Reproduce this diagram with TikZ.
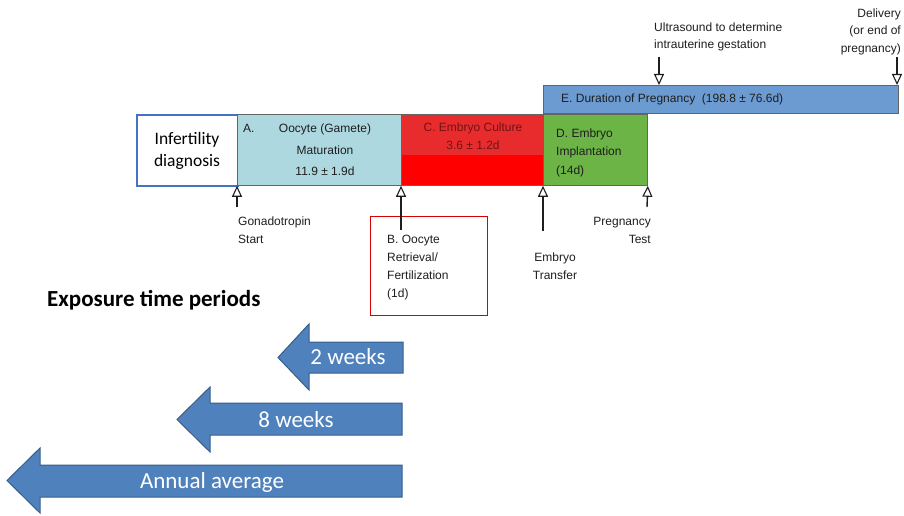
\documentclass[tikz,border=0pt]{standalone}
\usepackage{fontspec}
\setmainfont{Liberation Sans}
\newfontfamily\carl{Carlito}
\usetikzlibrary{arrows.meta}
\definecolor{boxA}{RGB}{174,216,224}
\definecolor{redTop}{RGB}{232,44,46}
\definecolor{redLow}{RGB}{255,0,0}
\definecolor{greenD}{RGB}{108,180,70}
\definecolor{blueE}{RGB}{108,155,210}
\definecolor{edgeG}{RGB}{100,100,100}
\definecolor{diagBlue}{RGB}{68,114,196}
\definecolor{bigFill}{RGB}{79,129,189}
\definecolor{bigEdge}{RGB}{56,93,138}
\definecolor{ctext}{RGB}{110,20,20}
\definecolor{labtext}{RGB}{30,30,30}
\tikzset{
  phase/.style={draw=edgeG, line width=0.8pt, inner sep=0pt, anchor=north west},
  lab/.style={inner sep=0pt, text=labtext, font=\fontsize{12}{18}\selectfont},
  tick/.style={draw=labtext, line width=1.4pt, -{Triangle[open, length=11pt, width=10pt, line width=1.1pt]}},
  bigarrow/.style={fill=bigFill, draw=bigEdge, line width=1pt, line join=miter},
  bigtext/.style={inner sep=0pt, text=white, font=\carl\fontsize{23}{26}\selectfont}
}
\begin{document}
\begin{tikzpicture}[x=1pt,y=-1pt]
\useasboundingbox (0,0) rectangle (904,516);
% phase boxes
\node[phase, fill=blueE, minimum width=355pt, minimum height=28pt] (E) at (543,85) {};
\node[phase, draw=diagBlue, line width=1.6pt, fill=white, minimum width=101pt, minimum height=71pt] (inf) at (136,114) {};
\node[phase, fill=boxA, minimum width=164pt, minimum height=71pt] (A) at (237,114) {};
\node[phase, fill=redLow, minimum width=142pt, minimum height=71pt] (C) at (401,114) {};
\fill[redTop] ([xshift=0.4pt,yshift=-0.4pt]C.north west) rectangle ([xshift=-0.4pt]C.east |- 0,155);
\draw[edgeG, line width=0.8pt] (C.north west) rectangle (C.south east);
\node[phase, fill=greenD, minimum width=104pt, minimum height=71pt] (D) at (543,114) {};
% texts in boxes
\node[inner sep=0pt, font=\carl\fontsize{17.5}{22}\selectfont, align=center] (inft) at (187,151) {Infertility\\diagnosis};
\node[lab, anchor=west] (Aa) at (243,128) {A.};
\node[lab, align=center, font=\fontsize{12}{21.5}\selectfont] (At) at (325,150) {Oocyte (Gamete)\\Maturation\\11.9 ± 1.9d};
\node[lab, align=center, text=ctext] (Ct) at (473,136.5) {C. Embryo Culture\\3.6 ± 1.2d};
\node[lab, align=left, anchor=west, font=\fontsize{12}{18.5}\selectfont] (Dt) at (556,152.5) {D. Embryo\\Implantation\\(14d)};
\node[lab, anchor=west] (Et) at (561,99) {E. Duration of Pregnancy\ \ (198.8 ± 76.6d)};
% labels
\node[lab, align=left, anchor=west] (gon) at (238,230) {Gonadotropin\\Start};
\node[draw=red!85!black, line width=1.4pt, minimum width=117pt, minimum height=99pt, anchor=north west, inner sep=0pt] (Bbox) at (370,216) {};
\node[lab, align=left, anchor=west] (Bt) at (387,268) {B. Oocyte\\Retrieval/\\Fertilization\\(1d)};
\node[lab, align=center] (et) at (555,266) {Embryo\\Transfer};
\node[lab, align=right, anchor=east] (pt) at (651,230.5) {Pregnancy\\Test};
\node[lab, align=left, anchor=west, font=\fontsize{12}{17}\selectfont] (us) at (654,36.5) {Ultrasound to determine\\intrauterine gestation};
\node[lab, align=right, anchor=east, font=\fontsize{12}{17.5}\selectfont] (del) at (901,31.5) {Delivery\\(or end of\\pregnancy)};
% tick arrows
\coordinate (g0) at (237,207);
\coordinate (b0) at (401,230);
\coordinate (t0) at (543,231);
\coordinate (p0) at (647,207);
\coordinate (u0) at (659,57);
\coordinate (d0) at (897,57);
\draw[tick] (g0) -- (A.south west);
\draw[tick] (b0) -- (C.south west);
\draw[tick] (t0) -- (D.south west);
\draw[tick] (p0) -- (D.south east);
\draw[tick] (u0) -- (u0 |- E.north);
\draw[tick] (d0) -- (d0 |- E.north);
% exposure
\node[inner sep=0pt, anchor=west, font=\carl\bfseries\fontsize{23}{26}\selectfont] (exp) at (47,300) {Exposure time periods};
\draw[bigarrow] (403,342) -- (309,342) -- (309,324) -- (278,357.5) -- (309,390) -- (309,373) -- (403,373) -- cycle;
\node[bigtext] (w2) at (348,357) {2 weeks};
\draw[bigarrow] (402,403) -- (210,403) -- (210,387) -- (177,419.5) -- (210,452) -- (210,435) -- (402,435) -- cycle;
\node[bigtext] (w8) at (296,420) {8 weeks};
\draw[bigarrow] (402,465) -- (40,465) -- (40,448) -- (7,480.5) -- (40,513) -- (40,497) -- (402,497) -- cycle;
\node[bigtext] (ann) at (212,482) {Annual average};
\end{tikzpicture}
\end{document}
